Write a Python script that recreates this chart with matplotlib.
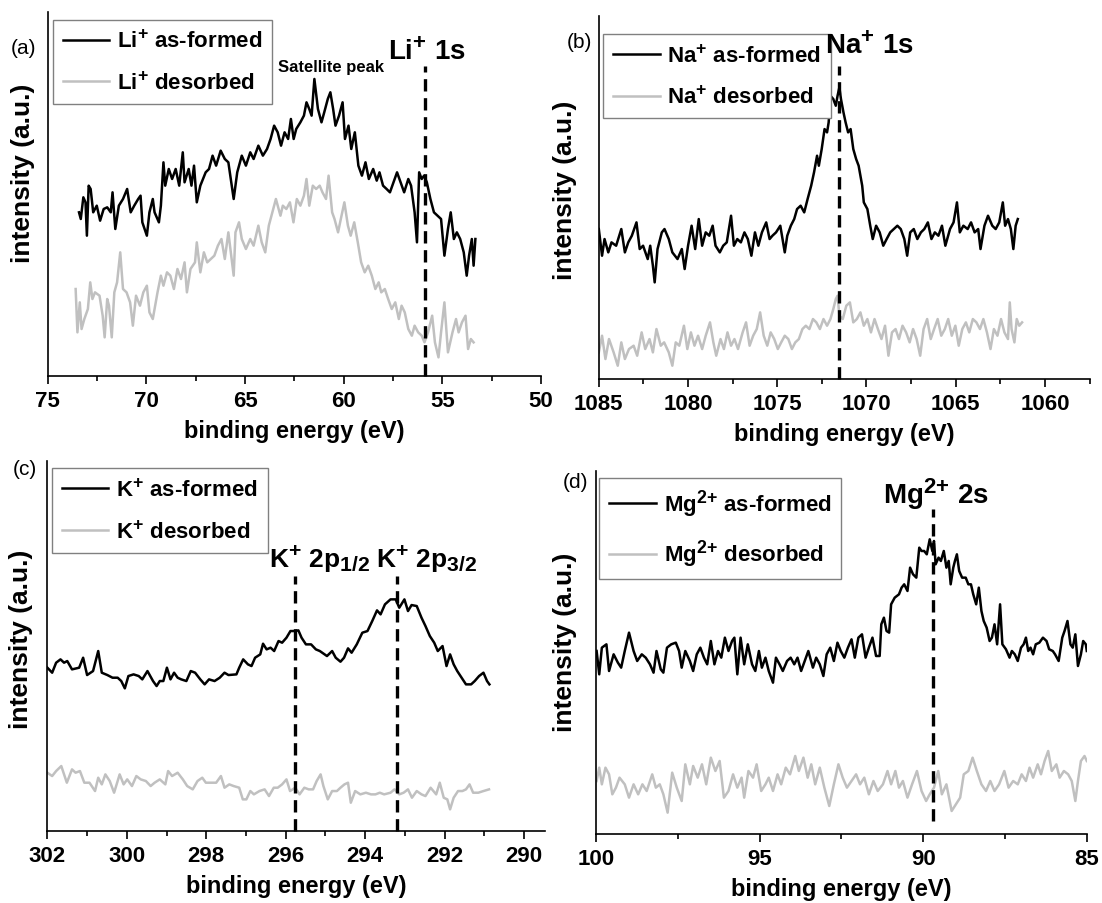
import matplotlib
matplotlib.use('Agg')
import matplotlib.pyplot as plt
import matplotlib._mathtext as mathtext_internal

plt.rcParams['font.family'] = ['Liberation Sans', 'DejaVu Sans']
plt.rcParams['font.weight'] = 'bold'
plt.rcParams['mathtext.fontset'] = 'custom'
plt.rcParams['mathtext.rm'] = 'Liberation Sans:bold'
plt.rcParams['mathtext.it'] = 'Liberation Sans:bold'
plt.rcParams['mathtext.bf'] = 'Liberation Sans:bold'
plt.rcParams['mathtext.sf'] = 'Liberation Sans:bold'
# the ion charges are printed rather large in the original figure
mathtext_internal.SHRINK_FACTOR = 0.8

# ---- (a) Li+ 1s region ----
li_E_formed = [73.42, 73.33, 73.20, 73.09, 73.02, 72.93, 72.83, 72.70, 72.52, 72.35,
               72.17, 71.99, 71.81, 71.72, 71.58, 71.40, 71.19, 70.98, 70.80, 70.62,
               70.42, 70.30, 70.21, 69.98, 69.85, 69.68, 69.59, 69.37, 69.27, 69.14,
               69.05, 68.87, 68.70, 68.52, 68.34, 68.16, 68.07, 67.86, 67.72, 67.59,
               67.45, 67.27, 67.00, 66.83, 66.65, 66.47, 66.24, 66.03, 65.85, 65.58,
               65.40, 65.17, 64.96, 64.74, 64.57, 64.33, 64.10, 63.89, 63.71, 63.53,
               63.35, 63.18, 63.00, 62.82, 62.68, 62.54, 62.41, 62.20, 62.02, 61.89,
               61.75, 61.63, 61.49, 61.31, 61.13, 60.99, 60.81, 60.68, 60.54, 60.42,
               60.24, 60.06, 59.94, 59.76, 59.62, 59.44, 59.26, 59.08, 58.90, 58.73,
               58.51, 58.33, 58.19, 58.01, 57.83, 57.66, 57.48, 57.30, 57.12, 56.94,
               56.73, 56.59, 56.41, 56.29, 56.18, 56.05, 55.93, 55.79, 55.61, 55.43,
               55.25, 55.07, 54.90, 54.72, 54.58, 54.42, 54.27, 54.10, 53.92, 53.77,
               53.65, 53.51, 53.42, 53.33]
li_I_formed = [49, 47, 53.5, 52, 42, 57, 56, 49, 51, 46.5,
               50, 50.5, 49, 55, 44, 51, 53, 56, 49, 51,
               53, 54, 46, 42, 49, 53, 49, 46, 51, 64,
               57, 62, 59, 62, 57, 67, 58, 62, 57, 63,
               52, 57, 61, 62, 66, 63, 67.5, 65, 64, 53,
               61, 66, 63, 67, 65, 69, 66, 68, 71, 75,
               73, 69, 73, 71, 77, 71, 74, 76, 78, 82,
               80, 78, 89, 80, 76, 79, 83, 85, 80, 75,
               78, 82, 71, 75, 68, 73, 63, 60, 64, 59,
               62, 58.5, 61, 57, 56, 55, 58, 61, 58, 55,
               59, 57, 49, 40, 61, 59, 60, 58, 53, 49,
               48, 47, 36, 44, 49, 41, 43, 41, 37, 30,
               36, 41, 33, 41]
li_E_desorbed = [73.59, 73.50, 73.38, 73.29, 73.15, 72.97, 72.85, 72.74, 72.61, 72.38,
                 72.22, 72.12, 71.99, 71.90, 71.76, 71.63, 71.49, 71.33, 71.19, 71.01,
                 70.83, 70.69, 70.53, 70.33, 70.16, 69.98, 69.85, 69.68, 69.44, 69.27,
                 69.14, 68.96, 68.79, 68.61, 68.43, 68.25, 68.07, 67.95, 67.77, 67.54,
                 67.45, 67.27, 67.09, 66.92, 66.74, 66.56, 66.38, 66.20, 66.03, 65.85,
                 65.58, 65.49, 65.31, 65.17, 64.96, 64.74, 64.57, 64.33, 64.16, 63.98,
                 63.80, 63.62, 63.44, 63.21, 63.09, 62.91, 62.73, 62.55, 62.38, 62.20,
                 62.02, 61.89, 61.75, 61.57, 61.40, 61.22, 61.08, 60.90, 60.77, 60.59,
                 60.47, 60.29, 60.15, 59.97, 59.79, 59.65, 59.47, 59.29, 59.12, 58.94,
                 58.76, 58.58, 58.40, 58.23, 58.10, 57.92, 57.75, 57.57, 57.39, 57.21,
                 57.07, 56.91, 56.73, 56.55, 56.41, 56.23, 56.05, 55.91, 55.73, 55.52,
                 55.38, 55.20, 55.07, 54.90, 54.72, 54.49, 54.31, 54.18, 54.01, 53.83,
                 53.70, 53.56, 53.42]
li_I_desorbed = [26, 13, 22, 14, 17, 20, 28, 23, 25, 24,
                 18, 11.5, 23, 21, 11.5, 25, 28, 37, 26, 25,
                 22, 15, 24, 21, 25, 27, 19, 17, 25, 30,
                 27, 31, 30, 26, 32, 29, 34, 25, 32, 34,
                 40, 31, 37, 34, 35, 36, 39, 41, 35, 43,
                 30, 43, 46, 41, 38, 41, 39, 45, 40, 37,
                 45, 49, 53, 48, 51, 50, 52, 46, 53, 51,
                 54, 59, 51, 57, 56, 57, 55, 53, 60, 49,
                 47, 43, 47, 52, 45, 42, 46, 40, 34, 31,
                 33, 30, 26, 28, 25, 26, 23, 20, 22, 17,
                 21, 19, 14, 12, 15, 13, 12, 10, 13, 18,
                 10, 5.5, 13, 22, 7, 13, 17, 13, 16, 18,
                 8, 11, 10]

# ---- (b) Na+ 1s region ----
na_E_formed = [1085.00, 1084.82, 1084.68, 1084.47, 1084.29, 1084.03, 1083.74, 1083.54, 1083.35, 1083.15,
               1082.89, 1082.71, 1082.52, 1082.26, 1082.12, 1081.97, 1081.87, 1081.71, 1081.47, 1081.32,
               1081.08, 1080.88, 1080.59, 1080.35, 1080.19, 1080.00, 1079.80, 1079.60, 1079.40, 1079.21,
               1079.01, 1078.81, 1078.62, 1078.46, 1078.22, 1078.03, 1077.83, 1077.59, 1077.43, 1077.24,
               1077.04, 1076.84, 1076.65, 1076.45, 1076.25, 1076.06, 1075.86, 1075.62, 1075.43, 1075.27,
               1075.07, 1074.83, 1074.58, 1074.44, 1074.24, 1074.05, 1073.89, 1073.69, 1073.49, 1073.30,
               1073.10, 1072.94, 1072.77, 1072.67, 1072.51, 1072.35, 1072.21, 1072.12, 1072.02, 1071.86,
               1071.72, 1071.62, 1071.52, 1071.43, 1071.29, 1071.17, 1071.03, 1070.89, 1070.74, 1070.58,
               1070.44, 1070.24, 1070.15, 1069.95, 1069.79, 1069.65, 1069.46, 1069.26, 1069.06, 1068.87,
               1068.67, 1068.47, 1068.27, 1068.08, 1067.88, 1067.72, 1067.55, 1067.35, 1067.15, 1066.95,
               1066.76, 1066.56, 1066.36, 1066.17, 1065.97, 1065.77, 1065.58, 1065.32, 1065.12, 1064.93,
               1064.77, 1064.57, 1064.33, 1064.14, 1063.94, 1063.74, 1063.61, 1063.39, 1063.19, 1062.95,
               1062.76, 1062.56, 1062.36, 1062.23, 1062.07, 1061.91, 1061.77, 1061.64, 1061.52]
na_I_formed = [45, 37, 42, 38, 41, 40, 45, 38, 41, 43,
               47, 39, 40, 36, 40, 34, 29, 39, 44, 45,
               42, 38, 36, 39, 33, 40, 46, 39, 48, 40,
               44, 43, 46, 40, 38, 40, 41, 49, 40, 42,
               41, 44, 42, 37, 44, 40, 44, 47, 42, 43,
               44, 46, 38, 43, 46, 48, 51, 52, 50, 54,
               58, 62, 67, 64, 69, 75, 74, 77, 85, 84,
               82, 85, 87.5, 84, 80, 77, 74, 75, 69, 66,
               64, 58, 53, 51, 46, 42, 46, 44, 40, 42,
               44, 45, 46, 45, 42, 37, 44, 45, 42, 44,
               45, 47, 42, 44, 43, 46, 40, 45, 47, 53,
               44, 46, 45, 47, 44, 45, 39, 46, 49, 46,
               45, 47, 53, 46, 48, 45, 39, 46, 48]
na_E_desorbed = [1085.00, 1084.82, 1084.63, 1084.43, 1084.17, 1083.94, 1083.74, 1083.54, 1083.31, 1083.05,
                 1082.85, 1082.60, 1082.40, 1082.16, 1081.97, 1081.77, 1081.53, 1081.34, 1081.08, 1080.88,
                 1080.69, 1080.49, 1080.23, 1080.04, 1079.84, 1079.64, 1079.44, 1079.21, 1079.01, 1078.77,
                 1078.58, 1078.42, 1078.18, 1077.99, 1077.79, 1077.59, 1077.40, 1077.20, 1076.94, 1076.75,
                 1076.55, 1076.35, 1076.15, 1075.96, 1075.76, 1075.56, 1075.37, 1075.17, 1074.97, 1074.78,
                 1074.58, 1074.38, 1074.18, 1073.99, 1073.79, 1073.59, 1073.40, 1073.20, 1073.00, 1072.81,
                 1072.61, 1072.41, 1072.21, 1072.02, 1071.86, 1071.72, 1071.62, 1071.52, 1071.33, 1071.13,
                 1070.93, 1070.74, 1070.54, 1070.34, 1070.15, 1069.95, 1069.75, 1069.55, 1069.36, 1069.16,
                 1068.96, 1068.77, 1068.57, 1068.37, 1068.18, 1067.98, 1067.78, 1067.58, 1067.39, 1067.19,
                 1066.99, 1066.80, 1066.60, 1066.40, 1066.21, 1066.01, 1065.81, 1065.61, 1065.42, 1065.22,
                 1065.02, 1064.83, 1064.63, 1064.43, 1064.24, 1064.04, 1063.84, 1063.64, 1063.45, 1063.25,
                 1063.05, 1062.86, 1062.66, 1062.46, 1062.27, 1062.07, 1061.97, 1061.87, 1061.71, 1061.58,
                 1061.44, 1061.28]
na_I_desorbed = [8, 13, 6, 12, 8, 4, 11, 6, 9, 10,
                 7, 14, 9, 12, 8, 15, 10, 11, 8, 4,
                 11, 10, 16, 9, 14, 10, 13, 9, 13, 17,
                 11, 7, 12, 9, 14, 10, 12, 9, 14, 17,
                 10, 13, 15, 20, 13, 10, 14, 12, 9, 11,
                 13, 12, 9, 11, 12, 15, 16, 15, 18, 17,
                 15, 18, 16, 18, 21, 24, 25, 19, 18, 22,
                 23, 17, 18, 20, 16, 18, 14, 18, 15, 12,
                 16, 7, 14, 15, 12, 16, 14, 11, 15, 12,
                 7, 15, 18, 12, 15, 18, 13, 15, 18, 13,
                 16, 10, 15, 17, 14, 18, 17, 15, 18, 14,
                 9, 15, 13, 18, 14, 12, 23, 15, 11, 18,
                 16, 17]

# ---- (c) K+ 2p region ----
k_E_formed = [302.00, 301.88, 301.78, 301.67, 301.58, 301.50, 301.38, 301.20, 301.10, 301.00,
              300.85, 300.72, 300.63, 300.49, 300.36, 300.23, 300.14, 300.05, 299.96, 299.83,
              299.70, 299.61, 299.48, 299.34, 299.25, 299.17, 299.08, 298.99, 298.90, 298.81,
              298.72, 298.63, 298.50, 298.39, 298.28, 298.15, 298.04, 297.93, 297.79, 297.66,
              297.54, 297.44, 297.24, 297.17, 297.07, 296.95, 296.86, 296.77, 296.64, 296.57,
              296.48, 296.38, 296.29, 296.18, 296.09, 295.98, 295.88, 295.77, 295.68, 295.60,
              295.49, 295.36, 295.24, 295.14, 294.96, 294.83, 294.74, 294.62, 294.53, 294.43,
              294.34, 294.21, 294.07, 293.94, 293.82, 293.70, 293.61, 293.50, 293.36, 293.23,
              293.14, 293.01, 292.92, 292.83, 292.70, 292.58, 292.48, 292.37, 292.26, 292.17,
              292.05, 291.95, 291.86, 291.77, 291.68, 291.57, 291.46, 291.33, 291.24, 291.13,
              291.02, 290.93, 290.87]
k_I_formed = [49, 47.5, 50.5, 51.5, 50.5, 51, 48.5, 49, 52, 46.8,
              48, 54, 47.5, 46.8, 46, 46, 45, 42.8, 46.5, 47,
              46.5, 45.5, 48, 45, 43.5, 45, 45, 49, 45.5, 47.5,
              46, 45.5, 45, 48, 47.5, 45.5, 44, 45.5, 45, 46,
              47.5, 46.8, 47, 49, 51.5, 50, 49.5, 52, 53, 56.2,
              54.5, 55, 54, 57, 56.5, 58, 60, 60, 60.2, 58,
              56, 56, 54.5, 54, 52.5, 54, 52, 50.8, 52, 54.8,
              53.5, 56, 59.5, 60, 63, 66.2, 65, 68, 69.5, 69.5,
              67, 69.5, 66, 67.8, 67.5, 64, 61.5, 58.5, 56.5, 54,
              55.5, 49.5, 53, 50, 48, 46, 44, 44, 45, 46.5,
              47.5, 45, 44]
k_E_desorbed = [302.00, 301.88, 301.78, 301.65, 301.51, 301.38, 301.29, 301.18, 301.07, 300.94,
                300.80, 300.72, 300.63, 300.54, 300.43, 300.32, 300.18, 300.08, 299.99, 299.87,
                299.76, 299.65, 299.52, 299.40, 299.30, 299.17, 299.03, 298.96, 298.86, 298.72,
                298.59, 298.48, 298.34, 298.22, 298.10, 298.01, 297.88, 297.75, 297.63, 297.54,
                297.42, 297.31, 297.17, 297.08, 296.99, 296.89, 296.80, 296.66, 296.53, 296.42,
                296.30, 296.20, 296.09, 295.98, 295.89, 295.76, 295.65, 295.53, 295.42, 295.31,
                295.22, 295.12, 295.05, 294.94, 294.83, 294.71, 294.62, 294.52, 294.43, 294.36,
                294.25, 294.12, 293.98, 293.85, 293.74, 293.63, 293.52, 293.36, 293.26, 293.14,
                293.03, 292.92, 292.82, 292.70, 292.58, 292.48, 292.35, 292.21, 292.12, 292.02,
                291.93, 291.86, 291.77, 291.66, 291.55, 291.46, 291.37, 291.28, 291.15, 291.02,
                290.88]
k_I_desorbed = [17.5, 16.5, 18, 19.5, 14.5, 18.5, 17.5, 18, 14.5, 14.5,
                12, 16, 14, 17, 15, 11.5, 17, 14, 15.5, 13.5,
                16.5, 15.5, 15, 13.5, 14.5, 15.5, 14, 18, 16.5, 17.5,
                15.5, 13.5, 12.5, 15, 16, 14.5, 14.5, 14.5, 16.5, 13,
                14, 13.5, 13, 9.5, 9.5, 12, 11, 12, 12.5, 10.5,
                13, 13, 14, 15.5, 12, 13, 11, 13, 12.5, 12.5,
                15, 17, 13.5, 9.5, 12, 12, 13, 14, 14.5, 8.5,
                12, 11, 11.5, 11, 11, 11.5, 11, 11.5, 12.5, 11,
                11.5, 12.5, 10, 12, 11, 10.5, 13, 11, 14.5, 10,
                9.5, 6.5, 10, 12, 12, 12.5, 14, 11.5, 11.5, 12,
                12.5]

# ---- (d) Mg2+ 2s region ----
mg_E_formed = [99.98, 99.90, 99.82, 99.68, 99.60, 99.46, 99.33, 99.23, 99.12, 98.99,
               98.85, 98.74, 98.60, 98.48, 98.35, 98.24, 98.15, 98.02, 97.94, 97.83,
               97.70, 97.56, 97.46, 97.38, 97.27, 97.13, 97.03, 96.92, 96.81, 96.70,
               96.60, 96.49, 96.38, 96.27, 96.17, 96.06, 95.95, 95.84, 95.77, 95.68,
               95.58, 95.47, 95.36, 95.23, 95.13, 95.02, 94.93, 94.82, 94.72, 94.59,
               94.50, 94.39, 94.29, 94.16, 94.05, 93.94, 93.84, 93.73, 93.62, 93.51,
               93.37, 93.27, 93.16, 93.05, 92.95, 92.84, 92.73, 92.62, 92.52, 92.41,
               92.30, 92.19, 92.09, 91.98, 91.87, 91.76, 91.66, 91.55, 91.44, 91.33,
               91.28, 91.20, 91.12, 91.04, 90.98, 90.87, 90.74, 90.66, 90.58, 90.48,
               90.40, 90.31, 90.21, 90.12, 90.05, 89.97, 89.89, 89.80, 89.72, 89.67,
               89.62, 89.53, 89.46, 89.37, 89.29, 89.22, 89.16, 89.08, 89.03, 88.97,
               88.90, 88.81, 88.70, 88.62, 88.54, 88.47, 88.38, 88.30, 88.22, 88.15,
               88.06, 87.97, 87.90, 87.82, 87.74, 87.65, 87.58, 87.47, 87.36, 87.29,
               87.20, 87.11, 87.01, 86.93, 86.86, 86.79, 86.72, 86.64, 86.56, 86.45,
               86.34, 86.23, 86.15, 86.04, 85.97, 85.86, 85.75, 85.68, 85.59, 85.50,
               85.43, 85.35, 85.27, 85.18, 85.11, 85.03, 85.00]
mg_I_formed = [54.8, 47.8, 55.8, 56.8, 48.8, 53.8, 51.3, 49.8, 54.8, 60.3,
               54.8, 51.8, 53.8, 52.8, 50.8, 48.3, 54.8, 49.3, 48.3, 55.8,
               56.8, 57.3, 54.8, 49.8, 54.8, 51.8, 48.8, 53.8, 55.8, 52.8,
               50.8, 57.8, 50.8, 54.8, 52.8, 58.8, 54.8, 57.8, 58.8, 47.8,
               58.8, 50.8, 56.8, 50.8, 48.8, 54.8, 49.8, 52.8, 48.8, 45.3,
               52.8, 50.8, 48.8, 51.8, 52.8, 50.8, 52.8, 48.8, 51.8, 54.8,
               49.8, 52.8, 50.8, 47.3, 53.8, 55.8, 51.8, 57.3, 54.8, 52.8,
               55.8, 58.3, 52.8, 58.8, 59.8, 52.8, 55.8, 58.8, 53.3, 53.3,
               62.8, 64.8, 60.8, 60.3, 68.8, 70.8, 71.8, 73.8, 74.8, 72.8,
               79.8, 77.8, 76.8, 85.8, 84.8, 84.8, 83.8, 88.3, 84.8, 87.8,
               80.8, 82.8, 81.8, 84.8, 79.8, 81.8, 74.8, 79.8, 81.8, 83.8,
               78.8, 76.8, 76.8, 74.8, 74.8, 71.8, 68.8, 73.8, 66.8, 63.8,
               61.8, 57.8, 58.8, 62.8, 56.8, 68.8, 56.8, 55.3, 52.8, 54.8,
               53.8, 51.8, 55.8, 56.8, 58.8, 54.8, 55.8, 53.8, 56.8, 57.3,
               58.8, 57.8, 55.3, 54.8, 53.8, 51.8, 58.8, 60.8, 63.8, 56.8,
               55.8, 59.8, 50.3, 53.8, 57.8, 56.8, 54.8]
mg_E_desorbed = [99.98, 99.90, 99.82, 99.71, 99.60, 99.50, 99.39, 99.28, 99.12, 98.99,
                 98.85, 98.71, 98.58, 98.45, 98.28, 98.17, 98.05, 97.94, 97.81, 97.67,
                 97.53, 97.38, 97.27, 97.13, 97.03, 96.89, 96.76, 96.63, 96.49, 96.35,
                 96.22, 96.09, 95.95, 95.81, 95.68, 95.55, 95.47, 95.34, 95.20, 95.09,
                 94.95, 94.82, 94.72, 94.59, 94.45, 94.34, 94.20, 94.07, 93.91, 93.80,
                 93.66, 93.53, 93.42, 93.30, 93.16, 93.02, 92.87, 92.73, 92.59, 92.46,
                 92.33, 92.19, 92.05, 91.93, 91.80, 91.66, 91.52, 91.39, 91.23, 91.09,
                 90.98, 90.85, 90.74, 90.62, 90.48, 90.34, 90.19, 90.05, 89.91, 89.80,
                 89.67, 89.54, 89.43, 89.29, 89.13, 89.00, 88.87, 88.76, 88.62, 88.49,
                 88.36, 88.22, 88.08, 87.95, 87.82, 87.68, 87.52, 87.39, 87.25, 87.11,
                 86.99, 86.86, 86.75, 86.64, 86.50, 86.40, 86.29, 86.18, 86.07, 85.93,
                 85.83, 85.70, 85.57, 85.46, 85.35, 85.27, 85.18, 85.07, 85.00]
mg_I_desorbed = [15.8, 19.8, 14.8, 19.8, 17.8, 11.8, 13.8, 16.8, 14.8, 10.8,
                 14.8, 11.8, 14.8, 12.8, 17.8, 13.8, 14.8, 11.8, 6.3, 18.3,
                 13.8, 9.8, 20.8, 14.8, 20.3, 16.8, 20.8, 14.8, 22.8, 18.8,
                 21.8, 10.8, 12.8, 17.8, 13.8, 16.8, 10.8, 18.8, 16.8, 20.8,
                 12.8, 14.8, 16.8, 12.8, 17.8, 14.8, 19.8, 17.8, 23.3, 18.8,
                 22.8, 16.8, 20.8, 14.8, 19.8, 13.8, 8.3, 14.8, 20.8, 16.8,
                 13.8, 15.8, 17.8, 14.8, 16.8, 11.8, 15.8, 12.8, 14.8, 18.8,
                 14.8, 18.8, 13.8, 15.8, 10.8, 14.8, 18.8, 12.8, 9.8, 11.8,
                 13.8, 18.8, 11.8, 14.8, 6.8, 8.8, 10.8, 17.8, 18.8, 22.8,
                 18.8, 14.8, 12.8, 15.8, 12.8, 14.8, 18.8, 13.8, 15.8, 14.8,
                 17.8, 15.8, 19.8, 16.8, 20.8, 17.8, 21.8, 24.8, 18.8, 20.8,
                 16.8, 18.8, 17.8, 15.8, 9.8, 15.8, 21.8, 23.3, 21.8]

# peak marker positions (eV) and their vertical span (a.u.)
li_peak, li_span = 55.9, (0, 93)
na_peak, na_span = 1071.52, (0, 94)
k_peaks, k_span = [295.76, 293.19], (0, 76.5)
mg_peak, mg_span = 89.69, (3.8, 97.3)

BLACK = '#000000'
GRAY = '#c0c0c0'
DASH = (0, (3.7, 2.0))

fig = plt.figure(figsize=(11.02, 9.04), dpi=100)

panels = [
    dict(rect=[0.0434, 0.5833, 0.4476, 0.4020], ion='Li$^{+}$',
         f=(li_E_formed, li_I_formed), d=(li_E_desorbed, li_I_desorbed),
         xlim=(75, 50), major=[75, 70, 65, 60, 55, 50],
         minor=[72.5, 67.5, 62.5, 57.5, 52.5], ylim=(0, 109),
         leg=(0.010, 0.980), ylab=(-0.026, 0.559)),
    dict(rect=[0.5434, 0.5796, 0.4461, 0.4019], ion='Na$^{+}$',
         f=(na_E_formed, na_I_formed), d=(na_E_desorbed, na_I_desorbed),
         xlim=(1085, 1057.45), major=[1085, 1080, 1075, 1070, 1065, 1060],
         minor=[1082.5, 1077.5, 1072.5, 1067.5, 1062.5, 1057.5], ylim=(0, 109),
         leg=(0.0085, 0.950), ylab=(-0.0435, 0.523)),
    dict(rect=[0.0430, 0.0796, 0.4512, 0.4093], ion='K$^{+}$',
         f=(k_E_formed, k_I_formed), d=(k_E_desorbed, k_I_desorbed),
         xlim=(302, 289.48), major=[302, 300, 298, 296, 294, 292, 290],
         minor=[301, 299, 297, 295, 293, 291], ylim=(0, 111),
         leg=(0.0087, 0.981), ylab=(-0.028, 0.522)),
    dict(rect=[0.5408, 0.0767, 0.4454, 0.4012], ion='Mg$^{2{+}}$',
         f=(mg_E_formed, mg_I_formed), d=(mg_E_desorbed, mg_I_desorbed),
         xlim=(100, 85), major=[100, 95, 90, 85],
         minor=[97.5, 92.5, 87.5], ylim=(0, 108.8),
         leg=(0.0071, 0.9815), ylab=(-0.038, 0.531)),
]

axes = []
for p in panels:
    ax = fig.add_axes(p['rect'])
    ax.plot(p['f'][0], p['f'][1], color=BLACK, lw=1.8, label=p['ion'] + ' as-formed')
    ax.plot(p['d'][0], p['d'][1], color=GRAY, lw=1.8, label=p['ion'] + ' desorbed')
    ax.set_xlim(*p['xlim'])
    ax.set_ylim(*p['ylim'])
    ax.set_xticks(p['major'])
    ax.set_xticks(p['minor'], minor=True)
    ax.set_yticks([])
    for s in ['top', 'right']:
        ax.spines[s].set_visible(False)
    for s in ['left', 'bottom']:
        ax.spines[s].set_linewidth(1.2)
    ax.tick_params(axis='x', which='major', direction='out', length=6, width=1.2,
                   labelsize=16, pad=4)
    ax.tick_params(axis='x', which='minor', direction='out', length=3.5, width=1.2)
    ax.set_xlabel('binding energy (eV)', fontsize=17, fontweight='bold', labelpad=6)
    ax.set_ylabel('intensity (a.u.)', fontsize=19, fontweight='bold')
    ax.yaxis.set_label_coords(*p['ylab'])
    leg = ax.legend(loc='upper left', bbox_to_anchor=p['leg'], borderaxespad=0,
                    fontsize=16, handlelength=2.1, handletextpad=0.35,
                    borderpad=0.45, labelspacing=0.85, fancybox=False,
                    framealpha=1, edgecolor='#808080')
    leg.get_frame().set_linewidth(1.0)
    for t in leg.get_texts():
        t.set_fontweight('bold')
    axes.append(ax)

ax_a, ax_b, ax_c, ax_d = axes

ax_a.vlines(li_peak, *li_span, colors=BLACK, lw=2.4, linestyles=DASH, zorder=5, clip_on=False)
ax_b.vlines(na_peak, *na_span, colors=BLACK, lw=2.4, linestyles=DASH, zorder=5, clip_on=False)
for e in k_peaks:
    ax_c.vlines(e, *k_span, colors=BLACK, lw=2.4, linestyles=DASH, zorder=5, clip_on=False)
ax_d.vlines(mg_peak, *mg_span, colors=BLACK, lw=2.4, linestyles=DASH, zorder=5, clip_on=False)

# panel letters
for txt, x, y in [('(a)', 0.0213, 0.9469), ('(b)', 0.5254, 0.9535),
                  ('(c)', 0.0227, 0.4801), ('(d)', 0.5222, 0.4668)]:
    fig.text(x, y, txt, fontsize=15, fontweight='normal', ha='center', va='center')

# peak annotations
fig.text(0.3879, 0.9336, 'Li$^{+}$ 1s', fontsize=20, ha='center', va='baseline')
fig.text(0.3004, 0.9207, 'Satellite peak', fontsize=12, ha='center', va='baseline')
fig.text(0.7886, 0.9410, 'Na$^{+}$ 1s', fontsize=20, ha='center', va='baseline')
fig.text(0.2899, 0.3713, 'K$^{+}$ 2p$_{1/2}$', fontsize=19, ha='center', va='baseline')
fig.text(0.3870, 0.3713, 'K$^{+}$ 2p$_{3/2}$', fontsize=19, ha='center', va='baseline')
fig.text(0.8491, 0.4428, 'Mg$^{2{+}}$ 2s', fontsize=20, ha='center', va='baseline')

fig.savefig('out.png', dpi=100)
